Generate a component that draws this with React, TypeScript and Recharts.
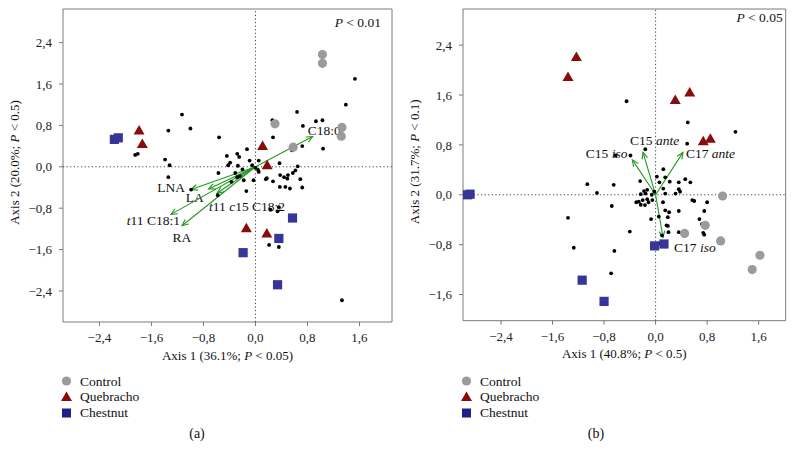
import { Legend, ReferenceArea, ReferenceLine, Scatter, ScatterChart, XAxis, YAxis } from "recharts";

type Pt = { x: number; y: number };
type Seg = [string, boolean];

const SERIF = '"Liberation Serif", "DejaVu Serif", "Times New Roman", serif';
const GREEN = "#229a22";

// ---- panel (a) ----
const controlA: Pt[] = [
  { x: 1.03, y: 2.17 }, { x: 1.03, y: 2.0 }, { x: 0.3, y: 0.83 },
  { x: 0.58, y: 0.38 }, { x: 1.33, y: 0.76 }, { x: 1.32, y: 0.59 },
];
const quebrachoA: Pt[] = [
  { x: -1.79, y: 0.7 }, { x: -1.74, y: 0.44 }, { x: 0.11, y: 0.4 },
  { x: 0.18, y: 0.03 }, { x: -0.14, y: -1.19 }, { x: 0.175, y: -1.29 },
];
const chestnutA: Pt[] = [
  { x: -2.17, y: 0.53 }, { x: -2.11, y: 0.56 }, { x: 0.57, y: -0.99 },
  { x: 0.36, y: -1.385 }, { x: -0.19, y: -1.66 }, { x: 0.34, y: -2.28 },
];
const fattyA: Pt[] = [
  { x: -1.13, y: 1.01 }, { x: -1.34, y: 0.7 }, { x: -1.0, y: 0.74 }, { x: -1.85, y: 0.23 },
  { x: -1.81, y: 0.25 }, { x: -1.39, y: 0.14 }, { x: -1.32, y: 0.03 }, { x: -1.34, y: -0.2 },
  { x: -0.56, y: 0.57 }, { x: -0.44, y: 0.21 }, { x: -0.28, y: 0.25 }, { x: -0.25, y: 0.19 },
  { x: -0.13, y: 0.34 }, { x: -0.42, y: 0.03 }, { x: -0.57, y: -0.12 }, { x: -0.31, y: -0.12 },
  { x: -0.27, y: 0.02 }, { x: -0.2, y: -0.05 }, { x: -0.09, y: 0.12 }, { x: -0.05, y: 0.03 },
  { x: 0.05, y: 0.12 }, { x: 0.0, y: -0.02 }, { x: 0.04, y: -0.06 }, { x: -0.18, y: -0.26 },
  { x: -0.14, y: -0.47 }, { x: -0.03, y: -0.26 }, { x: -0.37, y: -0.29 }, { x: -0.28, y: -0.2 },
  { x: -0.24, y: -0.18 }, { x: -0.58, y: -0.55 }, { x: -0.99, y: -0.44 }, { x: 0.26, y: 0.9 },
  { x: 0.27, y: 0.57 }, { x: 0.37, y: 0.07 }, { x: 0.175, y: -0.22 }, { x: 0.27, y: -0.28 },
  { x: 0.38, y: -0.16 }, { x: 0.44, y: -0.2 }, { x: 0.5, y: -0.16 }, { x: 0.575, y: -0.12 },
  { x: 0.615, y: -0.07 }, { x: 0.65, y: 0.01 }, { x: 0.69, y: -0.24 }, { x: 0.72, y: -0.4 },
  { x: 0.375, y: -0.39 }, { x: 0.46, y: -0.39 }, { x: 0.53, y: -0.42 }, { x: 0.49, y: -0.23 },
  { x: 0.64, y: 1.06 }, { x: 0.73, y: 0.79 }, { x: 0.56, y: 0.32 }, { x: 0.72, y: 0.4 },
  { x: 0.93, y: 0.88 }, { x: 1.03, y: 0.9 }, { x: 1.04, y: 0.35 }, { x: 1.39, y: 1.2 },
  { x: 1.53, y: 1.7 }, { x: 0.36, y: -0.78 }, { x: 0.34, y: -0.86 }, { x: 0.23, y: -0.83 },
  { x: 0.21, y: -1.51 }, { x: 0.36, y: -1.55 }, { x: 1.33, y: -2.58 }, { x: -0.39, y: 0.08 },
  { x: 0.05, y: -0.1 }, { x: 0.16, y: -0.24 },
];
const vectorsA: Pt[] = [
  { x: 0.88, y: 0.585 }, { x: -0.99, y: -0.44 }, { x: -0.72, y: -0.43 },
  { x: -0.59, y: -0.51 }, { x: -1.3, y: -0.92 }, { x: -1.13, y: -1.14 },
];
const vectorNamesA: Seg[][] = [
  [["C18:0", false]],
  [["LNA", false]],
  [["LA", false]],
  [["t", true], ["11 ", false], ["c", true], ["15 C18:2", false]],
  [["t", true], ["11 C18:1", false]],
  [["RA", false]],
];

// ---- panel (b) ----
const controlB: Pt[] = [
  { x: 1.04, y: -0.02 }, { x: 0.77, y: -0.49 }, { x: 0.45, y: -0.62 },
  { x: 1.01, y: -0.74 }, { x: 1.62, y: -0.97 }, { x: 1.5, y: -1.2 },
];
const quebrachoB: Pt[] = [
  { x: -1.23, y: 2.21 }, { x: -1.36, y: 1.89 }, { x: 0.305, y: 1.52 },
  { x: 0.53, y: 1.64 }, { x: 0.74, y: 0.86 }, { x: 0.85, y: 0.9 },
];
const chestnutB: Pt[] = [
  { x: -2.92, y: 0.0 }, { x: -2.88, y: 0.01 }, { x: -0.015, y: -0.82 },
  { x: 0.13, y: -0.79 }, { x: -1.14, y: -1.37 }, { x: -0.8, y: -1.71 },
];
const fattyB: Pt[] = [
  { x: -0.45, y: 1.5 }, { x: 0.5, y: 1.16 }, { x: 1.24, y: 1.01 }, { x: -0.16, y: 0.73 },
  { x: 0.49, y: 0.82 }, { x: -0.62, y: 0.63 }, { x: -0.39, y: 0.63 }, { x: -1.06, y: 0.17 },
  { x: -0.91, y: 0.03 }, { x: -0.65, y: 0.16 }, { x: -0.68, y: -0.18 }, { x: -1.36, y: -0.37 },
  { x: -0.4, y: -0.59 }, { x: -1.27, y: -0.85 }, { x: -0.64, y: -0.9 }, { x: -0.69, y: -1.26 },
  { x: -0.07, y: -0.39 }, { x: 0.12, y: 0.41 }, { x: 0.02, y: 0.29 }, { x: 0.15, y: 0.28 },
  { x: -0.24, y: 0.22 }, { x: 0.06, y: 0.2 }, { x: 0.22, y: 0.21 }, { x: 0.36, y: 0.2 },
  { x: 0.46, y: 0.25 }, { x: 0.54, y: 0.2 }, { x: 0.36, y: 0.09 }, { x: 0.38, y: 0.05 },
  { x: 0.31, y: 0.02 }, { x: 0.57, y: -0.085 }, { x: 0.6, y: -0.1 }, { x: 0.8, y: -0.12 },
  { x: 0.755, y: -0.26 }, { x: 0.68, y: -0.39 }, { x: 0.72, y: -0.47 }, { x: 0.74, y: -0.61 },
  { x: 0.755, y: -0.64 }, { x: 0.36, y: -0.26 }, { x: 0.36, y: -0.6 }, { x: 0.2, y: -0.6 },
  { x: 0.15, y: -0.25 }, { x: 0.19, y: -0.36 }, { x: 0.115, y: -0.12 }, { x: 0.15, y: 0.02 },
  { x: -0.11, y: -0.12 }, { x: -0.05, y: -0.085 }, { x: -0.2, y: -0.085 }, { x: -0.26, y: -0.11 },
  { x: -0.3, y: -0.12 }, { x: -0.23, y: -0.16 }, { x: -0.165, y: -0.165 }, { x: -0.13, y: -0.07 },
  { x: -0.155, y: 0.02 }, { x: -0.18, y: 0.06 }, { x: -0.13, y: 0.08 }, { x: -0.23, y: 0.01 },
  { x: -0.06, y: 0.0 }, { x: -0.02, y: 0.05 }, { x: 0.12, y: 0.1 }, { x: 0.05, y: -0.35 },
  { x: 0.17, y: -0.49 }, { x: 0.1, y: -0.65 }, { x: 0.05, y: -0.78 }, { x: 0.19, y: -0.5 },
  { x: 0.21, y: -0.28 },
];
const vectorsB: Pt[] = [
  { x: -0.36, y: 0.56 }, { x: -0.195, y: 0.68 }, { x: 0.425, y: 0.68 }, { x: 0.115, y: -0.685 },
];
const vectorNamesB: Seg[][] = [
  [["C15 ", false], ["iso", true]],
  [["C15 ", false], ["ante", true]],
  [["C17 ", false], ["ante", true]],
  [["C17 ", false], ["iso", true]],
];

const xTicks = [-2.4, -1.6, -0.8, 0, 0.8, 1.6];
const yTicksA = [-2.4, -1.6, -0.8, 0, 0.8, 1.6, 2.4];
const yTicksB = [-1.6, -0.8, 0, 0.8, 1.6, 2.4];
const groupNames = ["Control", "Quebracho", "Chestnut"];

// label placement next to each arrow tip (pixels)
type Place = { dx: number; dy: number; anchor: "start" | "middle" | "end" };
const placesA: Place[] = [
  { dx: -5, dy: -2, anchor: "start" },
  { dx: -6, dy: 2, anchor: "end" },
  { dx: -14, dy: 13, anchor: "middle" },
  { dx: -8, dy: 18, anchor: "start" },
  { dx: 9, dy: 11, anchor: "end" },
  { dx: 0, dy: 16, anchor: "middle" },
];
const placesB: Place[] = [
  { dx: -5, dy: -2, anchor: "end" },
  { dx: -13, dy: -7, anchor: "start" },
  { dx: 3, dy: 6, anchor: "start" },
  { dx: 11, dy: 15, anchor: "start" },
];

const fmt = (v: number) => v.toFixed(1).replace(".", ",").replace("-", "\u2212");

const Dot = (p: any) => <circle cx={p.cx} cy={p.cy} r={1.9} fill="#000" />;
const Circle = (p: any) => <circle cx={p.cx} cy={p.cy} r={4.6} fill="#9b9b9b" />;
const Tri = (p: any) => (
  <path d={`M${p.cx},${p.cy - 5.5}L${p.cx + 5.5},${p.cy + 4}L${p.cx - 5.5},${p.cy + 4}Z`} fill="#8a0b0b" />
);
const Sq = (p: any) => <rect x={p.cx - 4.6} y={p.cy - 4.6} width={9.2} height={9.2} fill="#35359a" />;

function segs(list: Seg[]) {
  return list.map(([t, it], i) => (
    <tspan key={i} fontStyle={it ? "italic" : "normal"}>
      {t}
    </tspan>
  ));
}

function arrowShape(name: Seg[], place: Place) {
  return (p: any) => {
    const { x1, y1, x2, y2 } = p;
    const ang = Math.atan2(y2 - y1, x2 - x1);
    const len = 7;
    const w = 0.42;
    const ax = x2 - len * Math.cos(ang - w);
    const ay = y2 - len * Math.sin(ang - w);
    const bx = x2 - len * Math.cos(ang + w);
    const by = y2 - len * Math.sin(ang + w);
    return (
      <g>
        <line x1={x1} y1={y1} x2={x2} y2={y2} stroke={GREEN} strokeWidth={1.1} />
        <polyline points={`${ax},${ay} ${x2},${y2} ${bx},${by}`} fill="none" stroke={GREEN} strokeWidth={1.1} />
        <text
          x={x2 + place.dx}
          y={y2 + place.dy}
          textAnchor={place.anchor}
          fontFamily={SERIF}
          fontSize={13.5}
          fill="#111"
        >
          {segs(name)}
        </text>
      </g>
    );
  };
}

function LegendBox() {
  return (
    <svg width={120} height={50} style={{ display: "block" }}>
      <circle cx={7.5} cy={9} r={4.6} fill="#9b9b9b" />
      <path d="M7.5,19.5L13,29L2,29Z" fill="#8a0b0b" />
      <rect x={3} y={36.5} width={9} height={9} fill="#1f1f85" />
      {groupNames.map((g, i) => (
        <text key={g} x={21} y={13.5 + i * 15.8} fontFamily={SERIF} fontSize={13.5} fill="#111">
          {g}
        </text>
      ))}
    </svg>
  );
}

type PanelProps = {
  width: number;
  right: number;
  bottom: number;
  xDomain: [number, number];
  yDomain: [number, number];
  yTicks: number[];
  dots: Pt[];
  control: Pt[];
  quebracho: Pt[];
  chestnut: Pt[];
  vectors: Pt[];
  names: Seg[][];
  places: Place[];
  xTitle: [string, string];
  yTitle: [string, string];
  pText: string;
  pPos: { dx: number; dy: number };
};

function Panel(props: PanelProps) {
  const tickStyle = { fill: "#222", fontSize: 13, fontFamily: SERIF };
  return (
    <ScatterChart
      width={props.width}
      height={462}
      margin={{ top: 9, right: props.right, bottom: props.bottom, left: 0 }}
    >
      <XAxis
        type="number"
        dataKey="x"
        domain={props.xDomain}
        ticks={xTicks}
        allowDataOverflow
        tickFormatter={fmt}
        tickSize={4}
        tickMargin={7}
        axisLine={false}
        tickLine={{ stroke: "#777" }}
        tick={tickStyle}
        height={45}
        label={{
          content: (lp: any) => {
            const vb = lp.viewBox;
            return (
              <text x={vb.x + vb.width / 2} y={vb.y + 37.5} textAnchor="middle" fontFamily={SERIF} fontSize={13} fill="#111">
                {props.xTitle[0]}
                <tspan fontStyle="italic">P</tspan>
                {props.xTitle[1]}
              </text>
            );
          },
        }}
      />
      <YAxis
        type="number"
        dataKey="y"
        domain={props.yDomain}
        ticks={props.yTicks}
        allowDataOverflow
        tickFormatter={fmt}
        tickSize={4}
        tickMargin={7}
        axisLine={false}
        tickLine={{ stroke: "#777" }}
        tick={tickStyle}
        width={63}
        label={{
          content: (lp: any) => {
            const vb = lp.viewBox;
            const cx = 19;
            const cy = vb.y + vb.height / 2 - 3;
            return (
              <text x={cx} y={cy} textAnchor="middle" transform={`rotate(-90, ${cx}, ${cy})`} fontFamily={SERIF} fontSize={13} fill="#111">
                {props.yTitle[0]}
                <tspan fontStyle="italic">P</tspan>
                {props.yTitle[1]}
              </text>
            );
          },
        }}
      />
      <ReferenceArea
        x1={props.xDomain[0]}
        x2={props.xDomain[1]}
        y1={props.yDomain[0]}
        y2={props.yDomain[1]}
        fill="none"
        stroke="#7a7a7a"
        strokeWidth={1}
        ifOverflow="visible"
        label={{
          content: (lp: any) => {
            const vb = lp.viewBox;
            return (
              <text x={vb.x + vb.width + props.pPos.dx} y={vb.y + props.pPos.dy} textAnchor="end" fontFamily={SERIF} fontSize={13.5} fill="#111">
                <tspan fontStyle="italic">P</tspan>
                {props.pText}
              </text>
            );
          },
        }}
      />
      <ReferenceLine x={0} stroke="#444" strokeDasharray="1.2 2.4" />
      <ReferenceLine y={0} stroke="#444" strokeDasharray="1.2 2.4" />
      <Scatter data={props.dots} shape={Dot} isAnimationActive={false} />
      <Scatter data={props.control} shape={Circle} isAnimationActive={false} />
      <Scatter data={props.quebracho} shape={Tri} isAnimationActive={false} />
      <Scatter data={props.chestnut} shape={Sq} isAnimationActive={false} />
      {props.vectors.map((v, i) => (
        <ReferenceLine
          key={i}
          segment={[{ x: 0, y: 0 }, { x: v.x, y: v.y }]}
          shape={arrowShape(props.names[i], props.places[i])}
        />
      ))}
      <Legend
        layout="vertical"
        align="center"
        verticalAlign="middle"
        wrapperStyle={{ left: 59, top: 372, width: 120, height: 50 }}
        content={() => <LegendBox />}
      />
    </ScatterChart>
  );
}

const captionStyle: React.CSSProperties = {
  position: "absolute",
  top: 426,
  width: 40,
  textAlign: "center",
  fontFamily: SERIF,
  fontSize: 14,
  color: "#111",
};

export default function App() {
  return (
    <div style={{ position: "absolute", left: 0, top: 0, width: 794, height: 462, background: "#fff" }}>
      <div style={{ position: "absolute", left: 0, top: 0 }}>
        <Panel
          width={400}
          right={8}
          bottom={95}
          xDomain={[-2.96, 2.1]}
          yDomain={[-3.0, 3.05]}
          yTicks={yTicksA}
          dots={fattyA}
          control={controlA}
          quebracho={quebrachoA}
          chestnut={chestnutA}
          vectors={vectorsA}
          names={vectorNamesA}
          places={placesA}
          xTitle={["Axis 1 (36.1%; ", " < 0.05)"]}
          yTitle={["Axis 2 (20.0%; ", " < 0.5)"]}
          pText=" < 0.01"
          pPos={{ dx: -11, dy: 18 }}
        />
      </div>
      <div style={{ position: "absolute", left: 400, top: 0 }}>
        <Panel
          width={394}
          right={8.3}
          bottom={96.3}
          xDomain={[-2.99, 2.02]}
          yDomain={[-2.02, 2.98]}
          yTicks={yTicksB}
          dots={fattyB}
          control={controlB}
          quebracho={quebrachoB}
          chestnut={chestnutB}
          vectors={vectorsB}
          names={vectorNamesB}
          places={placesB}
          xTitle={["Axis 1 (40.8%; ", " < 0.5)"]}
          yTitle={["Axis 2 (31.7%; ", " < 0.1)"]}
          pText=" < 0.05"
          pPos={{ dx: -3, dy: 12.5 }}
        />
      </div>
      <div style={{ ...captionStyle, left: 177 }}>(a)</div>
      <div style={{ ...captionStyle, left: 576 }}>(b)</div>
    </div>
  );
}
